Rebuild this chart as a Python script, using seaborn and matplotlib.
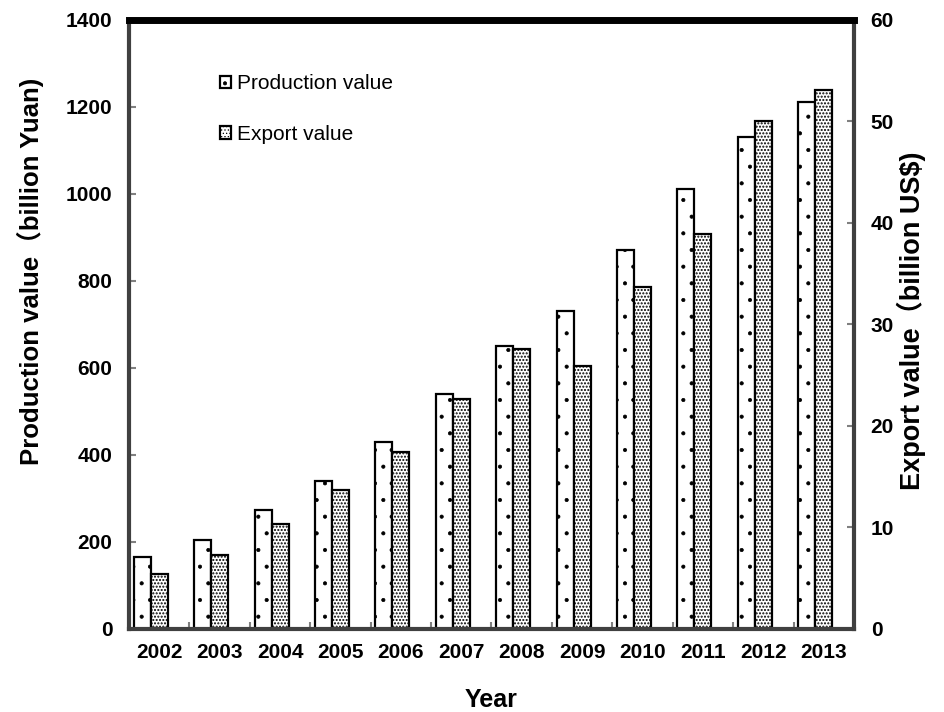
import numpy as np
import pandas as pd
import matplotlib
matplotlib.use("Agg")
import matplotlib.pyplot as plt
import seaborn as sns
from matplotlib.ticker import FixedLocator

# ---- data ----
years = ["2002", "2003", "2004", "2005", "2006", "2007",
         "2008", "2009", "2010", "2011", "2012", "2013"]
production = [165, 205, 274, 340, 430, 540, 650, 730, 870, 1010, 1130, 1210]
export = [5.4, 7.3, 10.3, 13.7, 17.4, 22.6, 27.6, 25.9, 33.7, 38.9, 50.0, 53.1]
series = ["Production value", "Export value", "_spacer"]
left_ticks = [0, 200, 400, 600, 800, 1000, 1200, 1400]
right_ticks = [0, 10, 20, 30, 40, 50, 60]

sns.set_theme(style="white")
plt.rcParams['font.family'] = ['Liberation Sans', 'Noto Sans CJK SC', 'DejaVu Sans']
plt.rcParams['hatch.linewidth'] = 0.5
plt.rcParams['hatch.color'] = 'black'
plt.rcParams['text.color'] = 'black'
plt.rcParams['axes.labelcolor'] = 'black'

fig = plt.figure(figsize=(9.45, 7.12), dpi=100)
ax = fig.add_axes([129 / 945, 1 - 629 / 712, 725 / 945, 609.5 / 712])
ax2 = ax.twinx()

df_p = pd.DataFrame({"Year": years, "value": production, "series": series[0]})
df_e = pd.DataFrame({"Year": years, "value": export, "series": series[1]})
pal = {s: "white" for s in series}

common = dict(x="Year", y="value", hue="series", hue_order=series, order=years,
              palette=pal, width=0.845, dodge=True, edgecolor="black", linewidth=1.6,
              errorbar=None, legend=False, saturation=1)
sns.barplot(data=df_p, ax=ax, **common)
sns.barplot(data=df_e, ax=ax2, **common)

for p in ax.patches:
    p.set_hatch('.')
for p in ax2.patches:
    p.set_hatch('.....')
    if hasattr(p, "set_hatch_linewidth"):
        p.set_hatch_linewidth(1.0)

# axes limits / ticks
ax.set_xlim(-0.5, 11.5)
ax.set_ylim(0, 1400)
ax2.set_ylim(0, 60)
ax.yaxis.set_major_locator(FixedLocator(left_ticks))
ax2.yaxis.set_major_locator(FixedLocator(right_ticks))
ax.set_xticks(range(len(years)))
ax.set_xticklabels(years)
ax.xaxis.set_minor_locator(FixedLocator(np.arange(0.5, 11.5, 1)))

ax.tick_params(axis='x', which='major', bottom=True, length=0, pad=10,
               labelsize=15, labelcolor='black')
ax.tick_params(axis='x', which='minor', bottom=True, direction='in', length=5,
               width=1.5, color='#808080')
ax.tick_params(axis='y', which='major', left=True, direction='in', length=5,
               width=1.5, color='#808080', pad=12, labelsize=15, labelcolor='black')
ax2.tick_params(axis='y', which='major', right=True, direction='in', length=5,
                width=1.5, color='#808080', pad=12, labelsize=15, labelcolor='black')
for lab in ax.get_xticklabels() + ax.get_yticklabels() + ax2.get_yticklabels():
    lab.set_fontweight('bold')

# spines
for s in ax.spines.values():
    s.set_visible(False)
for name, s in ax2.spines.items():
    s.set_visible(True)
    if name == 'top':
        s.set_linewidth(5)
        s.set_color('black')
    else:
        s.set_linewidth(3)
        s.set_color('#404040')

# labels
ax.set_xlabel("Year", fontsize=18, fontweight='bold', labelpad=19)
ax.set_ylabel("Production value（billion Yuan)", fontsize=18.5, fontweight='bold')
ax.yaxis.set_label_coords(-0.117, 0.587)
ax2.set_ylabel("Export value（billion US$)", fontsize=19.5, fontweight='bold')
ax2.yaxis.set_label_coords(1.059, 0.505)
ax2.set_xlabel("")

# legend
handles = [ax.patches[0], ax2.patches[0]]
ax2.legend(handles, series[:2], loc='upper left', bbox_to_anchor=(0.125, 0.910),
           frameon=False, fontsize=15, handlelength=0.55, handleheight=0.55,
           handletextpad=0.3, labelspacing=1.5, borderpad=0, borderaxespad=0)

fig.savefig("out.png", dpi=100)
